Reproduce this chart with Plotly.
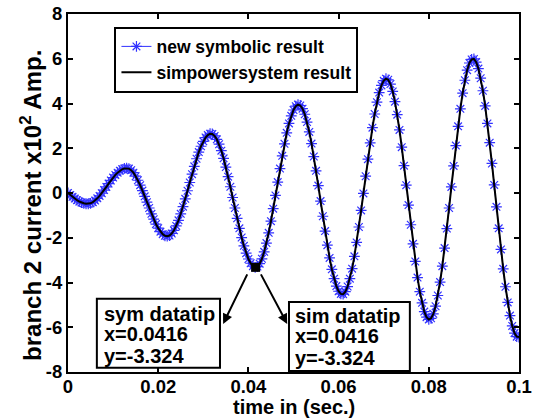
import plotly.graph_objects as go

# sample grid: 0 .. 0.1 s, 0.0005 s apart
time_step = 0.0005
time_s = [round(i * time_step, 4) for i in range(201)]

# branch 2 current (x10^2 A)
sym_current = [
    0.00, -0.09, -0.17, -0.25, -0.32, -0.38, -0.43, -0.46, -0.48, -0.48, -0.46, -0.41, -0.34, -0.24, -0.13, -0.01, 0.13, 0.27, 0.42, 0.56,
    0.69, 0.81, 0.91, 1.00, 1.06, 1.10, 1.11, 1.09, 1.02, 0.91, 0.75, 0.57, 0.35, 0.11, -0.15, -0.41, -0.67, -0.93, -1.17, -1.39,
    -1.57, -1.73, -1.84, -1.91, -1.93, -1.90, -1.81, -1.67, -1.47, -1.22, -0.93, -0.61, -0.26, 0.10, 0.47, 0.84, 1.19, 1.53, 1.83, 2.09,
    2.31, 2.48, 2.59, 2.65, 2.64, 2.55, 2.40, 2.18, 1.89, 1.55, 1.16, 0.73, 0.28, -0.20, -0.67, -1.13, -1.58, -1.99, -2.36, -2.69,
    -2.95, -3.14, -3.27, -3.32, -3.29, -3.16, -2.94, -2.63, -2.24, -1.78, -1.26, -0.70, -0.11, 0.49, 1.09, 1.66, 2.20, 2.69, 3.11, 3.45,
    3.71, 3.88, 3.95, 3.91, 3.77, 3.52, 3.17, 2.73, 2.21, 1.63, 0.99, 0.33, -0.36, -1.04, -1.70, -2.33, -2.90, -3.41, -3.83, -4.16,
    -4.39, -4.51, -4.52, -4.41, -4.18, -3.83, -3.38, -2.83, -2.21, -1.52, -0.78, -0.02, 0.75, 1.51, 2.24, 2.92, 3.53, 4.06, 4.49, 4.81,
    5.02, 5.11, 5.06, 4.87, 4.54, 4.08, 3.50, 2.82, 2.05, 1.22, 0.35, -0.54, -1.42, -2.27, -3.06, -3.78, -4.41, -4.91, -5.30, -5.55,
    -5.65, -5.60, -5.40, -5.06, -4.58, -3.98, -3.27, -2.46, -1.59, -0.67, 0.27, 1.21, 2.12, 2.98, 3.76, 4.46, 5.04, 5.49, 5.81, 5.97,
    5.99, 5.85, 5.56, 5.13, 4.57, 3.89, 3.11, 2.25, 1.32, 0.36, -0.62, -1.58, -2.52, -3.39, -4.19, -4.89, -5.48, -5.94, -6.26, -6.42,
    -6.44,
]
sim_current = list(sym_current)

datatip_x = [0.0416]
datatip_y = [-3.324]
datatip_labels = ["sym datatip", "sim datatip"]

x_tick_vals = [0, 0.02, 0.04, 0.06, 0.08, 0.1]
x_tick_text = ["0", "0.02", "0.04", "0.06", "0.08", "0.1"]
y_tick_vals = [-8, -6, -4, -2, 0, 2, 4, 6, 8]
y_tick_text = ["-8", "-6", "-4", "-2", "0", "2", "4", "6", "8"]

FONT = "Liberation Sans, Arial, sans-serif"
BLUE = "rgb(50,50,255)"

fig = go.Figure()
fig.add_trace(go.Scatter(
    x=time_s, y=sym_current, mode="lines+markers", name="<b>new symbolic result</b>",
    line=dict(color=BLUE, width=1),
    marker=dict(symbol="asterisk-open", size=9, color=BLUE,
                line=dict(color=BLUE, width=1.2)),
))
fig.add_trace(go.Scatter(
    x=time_s, y=sim_current, mode="lines", name="<b>simpowersystem result</b>",
    line=dict(color="black", width=2),
))
fig.add_trace(go.Scatter(
    x=datatip_x, y=datatip_y, mode="markers", showlegend=False,
    marker=dict(symbol="square", size=9, color="black"),
))

# datatip boxes (frame + three text lines each)
box_font = dict(family=FONT, size=20, color="black")
boxes = [
    # (x0, x1, y_top, y_bottom, text_x, line ys)
    (0.0064, 0.0337, -4.73, -7.81, 0.0076, [-5.40, -6.29, -7.28]),
    (0.0490, 0.0758, -4.87, -7.95, 0.0499, [-5.49, -6.38, -7.37]),
]
for label, (x0, x1, yt, yb, tx, lys) in zip(datatip_labels, boxes):
    fig.add_shape(type="rect", xref="x", yref="y", x0=x0, x1=x1, y0=yb, y1=yt,
                  line=dict(color="black", width=2), fillcolor="white", layer="above")
    lines = [label, "x=%.4f" % datatip_x[0], "y=%.3f" % datatip_y[0]]
    for txt, ly in zip(lines, lys):
        fig.add_annotation(x=tx, y=ly, xref="x", yref="y", xanchor="left",
                           yanchor="middle", text="<b>%s</b>" % txt,
                           showarrow=False, font=box_font)

# arrows from datatip to boxes
fig.add_annotation(x=0.0344, y=-5.85, ax=0.0399, ay=-3.57, xref="x", yref="y",
                   axref="x", ayref="y", text="", showarrow=True, arrowhead=2,
                   arrowsize=1, arrowwidth=2, arrowcolor="black")
fig.add_annotation(x=0.0486, y=-5.85, ax=0.0426, ay=-3.57, xref="x", yref="y",
                   axref="x", ayref="y", text="", showarrow=True, arrowhead=2,
                   arrowsize=1, arrowwidth=2, arrowcolor="black")

# axis titles
fig.add_annotation(x=0.5, y=-0.097, xref="paper", yref="paper", xanchor="center",
                   yanchor="middle", text="<b>time in (sec.)</b>", showarrow=False,
                   font=dict(family=FONT, size=20, color="black"))
fig.add_annotation(x=-0.082, y=0.464, xref="paper", yref="paper", xanchor="center",
                   yanchor="middle", textangle=-90,
                   text="<b>branch 2 current x10<sup>2</sup> Amp.</b>", showarrow=False,
                   font=dict(family=FONT, size=24, color="black"))

axis_common = dict(
    showline=True, linecolor="black", linewidth=2, mirror="allticks",
    ticks="inside", ticklen=5, tickwidth=1.5, tickcolor="black",
    showgrid=False, zeroline=False,
    tickfont=dict(family=FONT, size=18.5, color="black", weight="bold"),
)
fig.update_xaxes(range=[0, 0.1], tickvals=x_tick_vals, ticktext=x_tick_text,
                 ticklabelstandoff=-3, **axis_common)
fig.update_yaxes(range=[-8, 8], tickvals=y_tick_vals, ticktext=y_tick_text, **axis_common)

fig.update_layout(
    width=535, height=419,
    margin=dict(l=68, r=16, t=14, b=47, autoexpand=False),
    paper_bgcolor="white", plot_bgcolor="white",
    font=dict(family=FONT, color="black"),
    legend=dict(x=0.103, y=0.965, xanchor="left", yanchor="top",
                bgcolor="white", bordercolor="black", borderwidth=2,
                font=dict(family=FONT, size=17.5, color="black"),
                tracegroupgap=0, itemwidth=30),
    showlegend=True,
)

fig.write_html("out.html", config={"displayModeBar": False},
               post_script="document.body.style.margin='0';document.body.style.overflow='hidden';")
